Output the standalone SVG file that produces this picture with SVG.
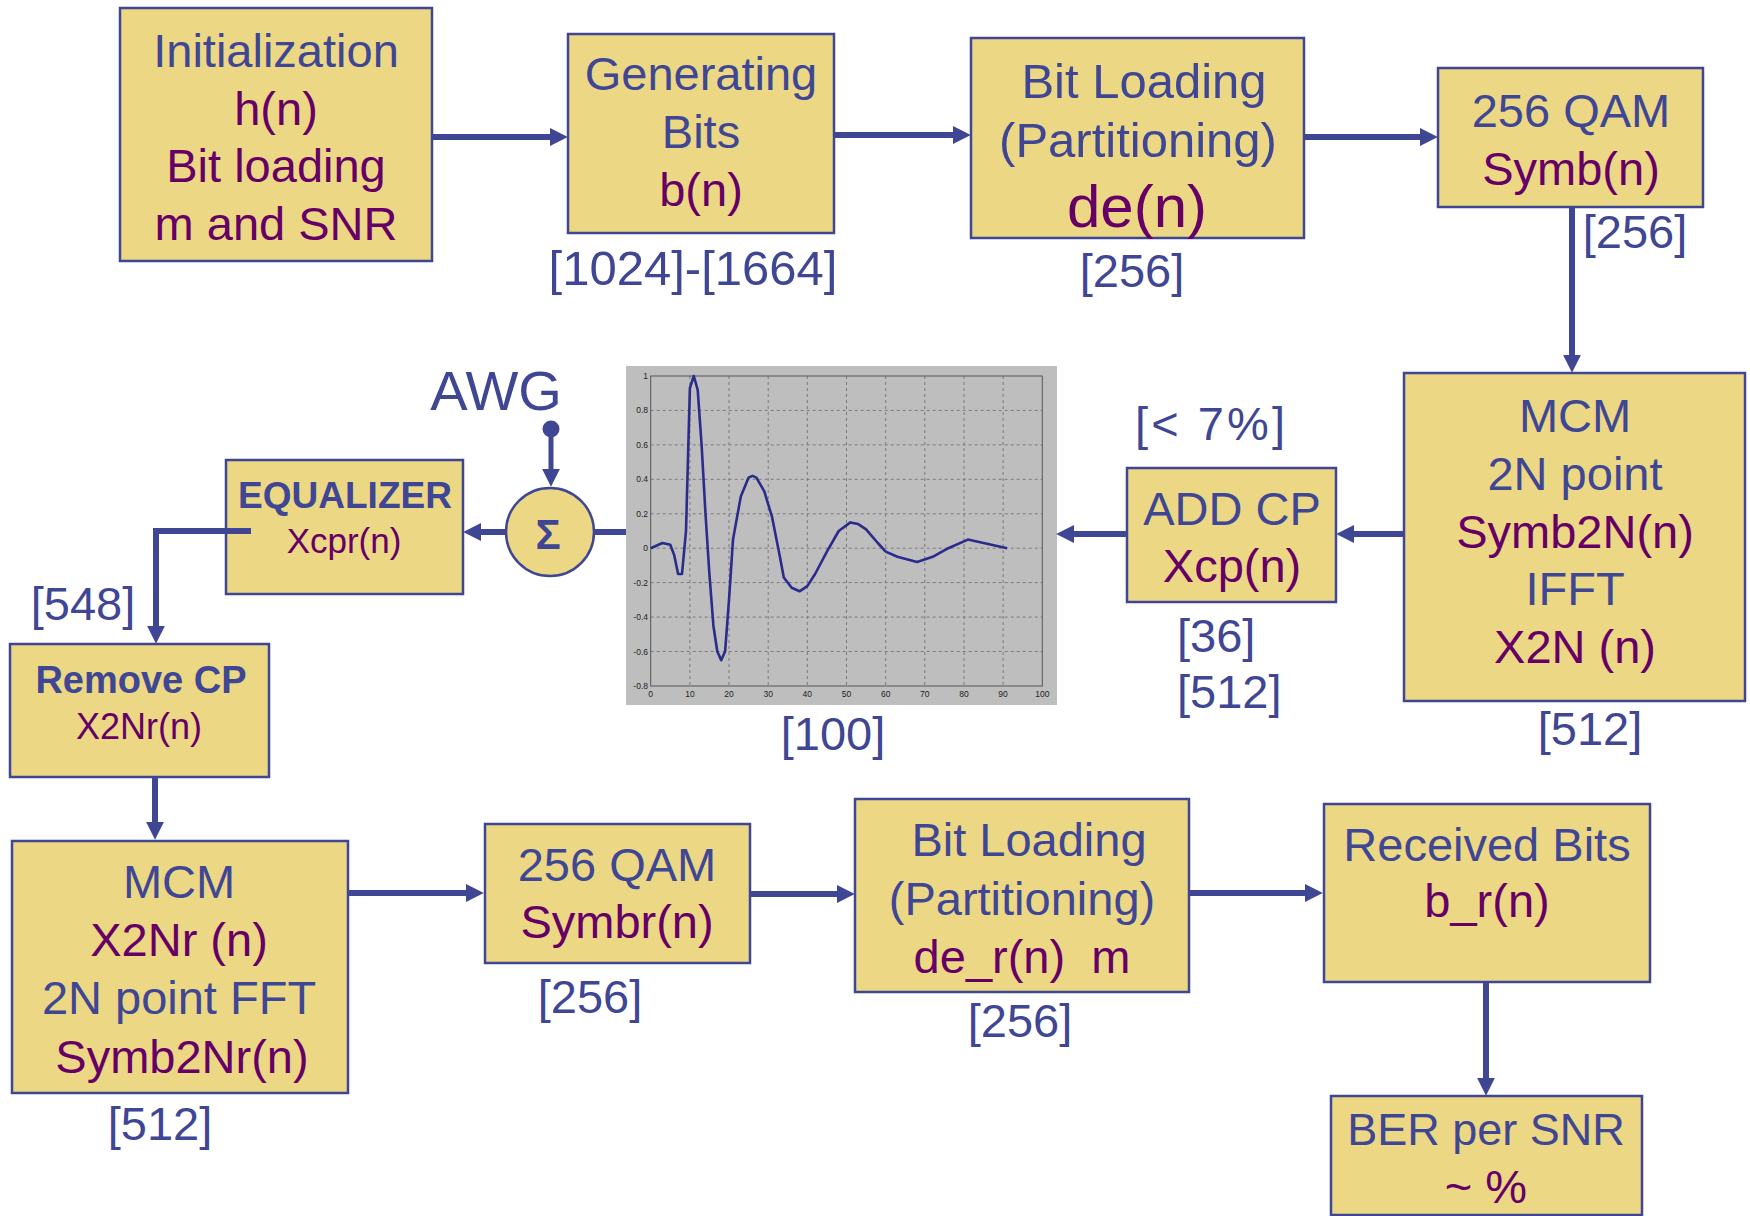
<svg xmlns="http://www.w3.org/2000/svg" width="1750" height="1216" viewBox="0 0 1750 1216">
<style>
text { font-family: "Liberation Sans", Arial, sans-serif; font-size: 47px; text-anchor: middle; }
.b { fill: #3F4694; }
.p { fill: #660066; }
.bold { font-weight: bold; }
.box { fill: #EBD784; stroke: #3F4694; stroke-width: 2.5; }
.con { fill: none; stroke: #3F4694; stroke-width: 6; }
.grid { stroke: #7A7A7A; stroke-width: 1; stroke-dasharray: 3 3; }
.tick text { font-size: 8.5px; fill: #222; }
.pre { white-space: pre; }
</style>
<defs>
<marker id="ah" viewBox="0 0 10 10" markerUnits="userSpaceOnUse" markerWidth="18" markerHeight="18" refX="4" refY="5" orient="auto">
<path d="M0,0 L10,5 L0,10 z" fill="#3F4694"/>
</marker>
</defs>
<rect x="0" y="0" width="1750" height="1216" fill="#FFFFFF"/>

<g id="node-init">
<rect class="box" x="120" y="8" width="312" height="253"/>
<text class="b" x="276" y="67">Initialization</text>
<text class="p" x="276" y="125">h(n)</text>
<text class="p" x="276" y="182">Bit loading</text>
<text class="p" x="276" y="240">m and SNR</text>
</g>

<g id="node-generating">
<rect class="box" x="568" y="34" width="266" height="199"/>
<text class="b" x="701" y="90">Generating</text>
<text class="b" x="701" y="148">Bits</text>
<text class="p" x="701" y="206">b(n)</text>
<text class="b" x="693" y="285" style="font-size:49px">[1024]-[1664]</text>
</g>

<g id="node-bitloading-tx">
<rect class="box" x="971" y="38" width="333" height="200"/>
<text class="b" x="1144" y="98" style="font-size:49px">Bit Loading</text>
<text class="b" x="1138" y="157" style="font-size:49px">(Partitioning)</text>
<text class="p" x="1137" y="227" style="font-size:60px">de(n)</text>
<text class="b" x="1132" y="287">[256]</text>
</g>

<g id="node-qam-tx">
<rect class="box" x="1438" y="68" width="265" height="139"/>
<text class="b" x="1571" y="127">256 QAM</text>
<text class="p" x="1571" y="185">Symb(n)</text>
<text class="b" x="1635" y="248">[256]</text>
</g>

<g id="node-mcm-ifft">
<rect class="box" x="1404" y="373" width="341" height="328"/>
<text class="b" x="1575" y="432">MCM</text>
<text class="b" x="1575" y="490">2N point</text>
<text class="p" x="1575" y="548">Symb2N(n)</text>
<text class="b" x="1575" y="605">IFFT</text>
<text class="p" x="1575" y="663">X2N (n)</text>
<text class="b" x="1590" y="745">[512]</text>
</g>

<g id="node-addcp">
<rect class="box" x="1127" y="468" width="209" height="134"/>
<text class="b" x="1232" y="525">ADD CP</text>
<text class="p" x="1232" y="582">Xcp(n)</text>
<text class="b" x="1210" y="440" textLength="150" lengthAdjust="spacing">[&lt; 7%]</text>
<text class="b" x="1177" y="652" style="text-anchor:start">[36]</text>
<text class="b" x="1177" y="708" style="text-anchor:start">[512]</text>
</g>

<g id="node-channel">
<rect x="626" y="366" width="431" height="339" fill="#BEBEBE"/>
<g class="grid">
<line x1="689.9" y1="376" x2="689.9" y2="686"/>
<line x1="729.0" y1="376" x2="729.0" y2="686"/>
<line x1="768.2" y1="376" x2="768.2" y2="686"/>
<line x1="807.3" y1="376" x2="807.3" y2="686"/>
<line x1="846.5" y1="376" x2="846.5" y2="686"/>
<line x1="885.7" y1="376" x2="885.7" y2="686"/>
<line x1="924.8" y1="376" x2="924.8" y2="686"/>
<line x1="964.0" y1="376" x2="964.0" y2="686"/>
<line x1="1003.1" y1="376" x2="1003.1" y2="686"/>
<line x1="650.7" y1="410.4" x2="1042.3" y2="410.4"/>
<line x1="650.7" y1="444.9" x2="1042.3" y2="444.9"/>
<line x1="650.7" y1="479.3" x2="1042.3" y2="479.3"/>
<line x1="650.7" y1="513.8" x2="1042.3" y2="513.8"/>
<line x1="650.7" y1="548.2" x2="1042.3" y2="548.2"/>
<line x1="650.7" y1="582.6" x2="1042.3" y2="582.6"/>
<line x1="650.7" y1="617.1" x2="1042.3" y2="617.1"/>
<line x1="650.7" y1="651.5" x2="1042.3" y2="651.5"/>
</g>
<rect x="650.7" y="376" width="391.6" height="310" fill="none" stroke="#555" stroke-width="1"/>
<g class="tick">
<text x="648" y="379" style="text-anchor:end">1</text>
<text x="648" y="413" style="text-anchor:end">0.8</text>
<text x="648" y="448" style="text-anchor:end">0.6</text>
<text x="648" y="482" style="text-anchor:end">0.4</text>
<text x="648" y="517" style="text-anchor:end">0.2</text>
<text x="648" y="551" style="text-anchor:end">0</text>
<text x="648" y="586" style="text-anchor:end">-0.2</text>
<text x="648" y="620" style="text-anchor:end">-0.4</text>
<text x="648" y="655" style="text-anchor:end">-0.6</text>
<text x="648" y="689" style="text-anchor:end">-0.8</text>
</g>
<g class="tick">
<text x="650.7" y="697">0</text>
<text x="689.9" y="697">10</text>
<text x="729.0" y="697">20</text>
<text x="768.2" y="697">30</text>
<text x="807.3" y="697">40</text>
<text x="846.5" y="697">50</text>
<text x="885.7" y="697">60</text>
<text x="924.8" y="697">70</text>
<text x="964.0" y="697">80</text>
<text x="1003.1" y="697">90</text>
<text x="1042.3" y="697">100</text>
</g>
<polyline fill="none" stroke="#2B2B8C" stroke-width="2.6" stroke-linejoin="round" points="650.7,548.2 658.5,544.8 662.5,543.0 670.3,544.8 674.2,555.1 678.1,574.0 682.0,574.0 686.0,531.0 689.9,388.1 693.8,376.0 697.7,389.8 701.6,444.9 705.5,513.8 709.4,574.0 713.4,625.7 717.3,651.5 721.2,660.1 725.1,651.5 729.0,599.9 733.0,539.6 740.8,496.5 748.6,477.6 752.5,475.9 756.4,477.6 764.3,491.4 772.1,517.2 779.9,556.8 783.8,577.5 791.7,587.8 799.5,591.3 807.3,586.1 815.1,574.0 826.9,551.6 838.7,531.0 850.4,522.4 858.2,524.1 866.1,529.3 877.8,543.0 885.7,551.6 897.4,556.8 917.0,562.0 932.7,556.8 948.3,548.2 967.9,539.6 983.6,543.0 1007.1,548.2"/>
<text class="b" x="833" y="750">[100]</text>
</g>

<g id="node-sum">
<circle cx="550" cy="532" r="44" fill="#EBD784" stroke="#3F4694" stroke-width="2.5"/>
<text class="b bold" x="548" y="549" style="font-size:42px">Σ</text>
</g>

<g id="node-awg">
<text class="b" x="496" y="410" style="font-size:56px">AWG</text>
<circle cx="551" cy="429" r="8.5" fill="#3F4694"/>
</g>

<g id="node-equalizer">
<rect class="box" x="226" y="460" width="237" height="134"/>
<text class="b bold" x="345" y="508" style="font-size:37px">EQUALIZER</text>
<text class="p" x="344" y="553" style="font-size:35px">Xcpr(n)</text>
<text class="b" x="83" y="620">[548]</text>
</g>

<g id="node-removecp">
<rect class="box" x="10" y="644" width="259" height="133"/>
<text class="b bold" x="141" y="693" style="font-size:38px">Remove CP</text>
<text class="p" x="139" y="739" style="font-size:36px">X2Nr(n)</text>
</g>

<g id="node-mcm-fft">
<rect class="box" x="12" y="841" width="336" height="252"/>
<text class="b" x="179" y="898">MCM</text>
<text class="p" x="179" y="956">X2Nr (n)</text>
<text class="b" x="179" y="1014">2N point FFT</text>
<text class="p" x="182" y="1073">Symb2Nr(n)</text>
<text class="b" x="160" y="1140">[512]</text>
</g>

<g id="node-qam-rx">
<rect class="box" x="485" y="824" width="265" height="139"/>
<text class="b" x="617" y="881">256 QAM</text>
<text class="p" x="617" y="938">Symbr(n)</text>
<text class="b" x="590" y="1013">[256]</text>
</g>

<g id="node-bitloading-rx">
<rect class="box" x="855" y="799" width="334" height="193"/>
<text class="b" x="1029" y="856">Bit Loading</text>
<text class="b" x="1022" y="915">(Partitioning)</text>
<text class="p pre" x="1022" y="973">de_r(n)  m</text>
<text class="b" x="1020" y="1037">[256]</text>
</g>

<g id="node-received">
<rect class="box" x="1324" y="804" width="326" height="178"/>
<text class="b" x="1487" y="861">Received Bits</text>
<text class="p" x="1487" y="917">b_r(n)</text>
</g>

<g id="node-ber">
<rect class="box" x="1331" y="1096" width="311" height="119"/>
<text class="b" x="1486" y="1145" style="font-size:45px">BER per SNR</text>
<text class="p" x="1486" y="1203">~ %</text>
</g>

<g id="connectors">
<line class="con" x1="432" y1="137" x2="557" y2="137" marker-end="url(#ah)"/>
<line class="con" x1="834" y1="135" x2="960" y2="135" marker-end="url(#ah)"/>
<line class="con" x1="1304" y1="137" x2="1427" y2="137" marker-end="url(#ah)"/>
<line class="con" x1="1572" y1="207" x2="1572" y2="362" marker-end="url(#ah)"/>
<line class="con" x1="1404" y1="534" x2="1347" y2="534" marker-end="url(#ah)"/>
<line class="con" x1="1127" y1="534" x2="1067" y2="534" marker-end="url(#ah)"/>
<line class="con" x1="626" y1="532" x2="594" y2="532"/>
<line class="con" x1="506" y1="532" x2="474" y2="532" marker-end="url(#ah)"/>
<line class="con" x1="551" y1="429" x2="551" y2="476" style="stroke-width:5" marker-end="url(#ah)"/>
<polyline class="con" points="251,531 156,531 156,633" marker-end="url(#ah)"/>
<line class="con" x1="155" y1="777" x2="155" y2="829" marker-end="url(#ah)"/>
<line class="con" x1="348" y1="893" x2="473" y2="893" marker-end="url(#ah)"/>
<line class="con" x1="750" y1="894" x2="844" y2="894" marker-end="url(#ah)"/>
<line class="con" x1="1189" y1="893" x2="1312" y2="893" marker-end="url(#ah)"/>
<line class="con" x1="1486" y1="982" x2="1486" y2="1085" marker-end="url(#ah)"/>
</g>
</svg>
